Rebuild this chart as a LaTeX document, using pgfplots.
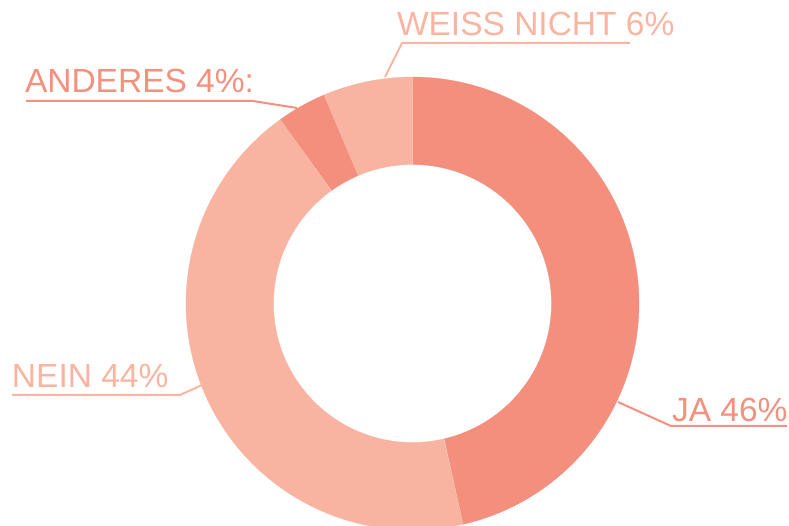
\documentclass[border=0pt]{standalone}
\usepackage{pgfplots}
\pgfplotsset{compat=1.18}
\usepackage{fontspec}
\setmainfont{Liberation Sans}
\definecolor{darkc}{HTML}{F48E7D}
\definecolor{lightc}{HTML}{F9B4A1}
\definecolor{darkt}{HTML}{F4907E}
\definecolor{lightt}{HTML}{FAB4A0}
\tikzset{lbl/.style={font=\fontsize{33.5}{40}\selectfont, inner sep=0pt, outer sep=0pt, anchor=base west}}
% ring segment from start percent to end percent (cumulative), clockwise from top
\newcommand{\ring}[3]{%
  \pgfmathsetmacro\ringA{90-3.6*#1}%
  \pgfmathsetmacro\ringB{90-3.6*#2}%
  \addplot[fill=#3, draw=#3, line width=0.3pt, domain=0:2, samples=1201, variable=\t]
   ({412.5+ifthenelse(\t<=1, 226.5*cos(\ringA+(\ringB-\ringA)*\t), 139*cos(\ringB-(\ringB-\ringA)*(\t-1)))},
    {222.5+ifthenelse(\t<=1, 226.5*sin(\ringA+(\ringB-\ringA)*\t), 139*sin(\ringB-(\ringB-\ringA)*(\t-1)))});
}
\begin{document}
\begin{tikzpicture}
\path[use as bounding box] (0,0) rectangle (789pt,526pt);
\begin{axis}[at={(0,0)}, anchor=south west, width=789pt, height=526pt, scale only axis,
  xmin=0, xmax=789, ymin=0, ymax=526, hide axis]
% JA 46, NEIN 44, ANDERES 4, WEISS NICHT 6 (cumulative, as drawn)
\ring{0}{46.4}{darkc}
\ring{46.4}{90.1}{lightc}
\ring{90.1}{93.6}{darkc}
\ring{93.6}{100}{lightc}
% labels
\node[lbl, text=lightt] at (axis cs:397,490) {WEISS NICHT 6\%};
\draw[lightt, line width=2pt] (axis cs:630,483) -- (axis cs:402,483) -- (axis cs:385,449);
\node[lbl, text=darkt] at (axis cs:25,433) {ANDERES 4\%:};
\draw[darkt, line width=2pt] (axis cs:26,425) -- (axis cs:253,425) -- (axis cs:297,418);
\node[lbl, text=lightt] at (axis cs:12,138) {NEIN 44\%};
\draw[lightt, line width=2pt] (axis cs:12,131) -- (axis cs:180,131) -- (axis cs:202,141);
\node[lbl, text=darkt] at (axis cs:672,104) {JA 46\%};
\draw[darkt, line width=2pt] (axis cs:787,100) -- (axis cs:671,100) -- (axis cs:618,124);
\end{axis}
\end{tikzpicture}
\end{document}
